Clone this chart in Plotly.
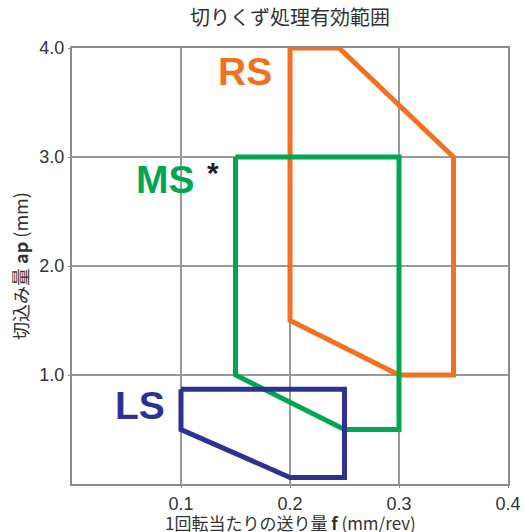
import plotly.graph_objects as go

# Regions (feed f mm/rev, depth ap mm)
rs_f = [0.2, 0.245, 0.35, 0.35, 0.3, 0.2, 0.2]
rs_ap = [4.0, 4.0, 3.0, 1.0, 1.0, 1.5, 4.0]
ms_f = [0.15, 0.3, 0.3, 0.25, 0.15, 0.15]
ms_ap = [3.0, 3.0, 0.5, 0.5, 1.0, 3.0]
ls_f = [0.1, 0.25, 0.25, 0.2, 0.1, 0.1]
ls_ap = [0.87, 0.87, 0.06, 0.06, 0.5, 0.87]

x_ticks = [0.1, 0.2, 0.3, 0.4]
x_labels = ["0.1", "0.2", "0.3", "0.4"]
y_ticks = [1.0, 2.0, 3.0, 4.0]
y_labels = ["1.0", "2.0", "3.0", "4.0"]

ORANGE = "#F37021"
GREEN = "#00A651"
NAVY = "#2E3192"
FONT = "Noto Sans CJK JP"

fig = go.Figure()
for fx, fy, c in [(rs_f, rs_ap, ORANGE), (ms_f, ms_ap, GREEN), (ls_f, ls_ap, NAVY)]:
    fig.add_trace(go.Scatter(x=fx, y=fy, mode="lines",
                             line=dict(color=c, width=5),
                             hoverinfo="skip", showlegend=False))

labels = [("RS", 0.159, 3.78, ORANGE), ("MS", 0.086, 2.79, GREEN), ("LS", 0.062, 0.72, NAVY)]
for t, x, y, c in labels:
    fig.add_annotation(x=x, y=y, text=f"<b>{t}</b>", showarrow=False,
                       font=dict(family="Arial, Liberation Sans", size=39, color=c))
fig.add_annotation(x=0.129, y=2.86, text="<b>*</b>", showarrow=False,
                   font=dict(family="Arial, Liberation Sans", size=30, color="#231F20"))

# axis titles
fig.add_annotation(x=0.5, y=0, xref="paper", yref="paper", yshift=-38, showarrow=False,
                   text="1回転当たりの送り量 <b>f</b> (mm/rev)", yanchor="middle",
                   font=dict(family=FONT, size=17, color="#333333"))
fig.add_annotation(x=0, y=0.5, xref="paper", yref="paper", xshift=-52, showarrow=False,
                   text="切込み量 <b>ap</b> (mm)", textangle=-90, xanchor="center",
                   font=dict(family=FONT, size=18, color="#333333"))

axis_common = dict(showline=True, linecolor="#8c8c8c", linewidth=2, mirror=True,
                   showgrid=True, gridcolor="#999999", gridwidth=1.5, zeroline=False,
                   ticks="outside", ticklen=2, tickcolor="#8c8c8c", automargin=False,
                   tickfont=dict(family="Liberation Sans, Arial", size=18, color="#333333"))

fig.update_xaxes(range=[0, 0.4], tickvals=x_ticks, ticktext=x_labels, **axis_common)
fig.update_yaxes(range=[0, 4.0], tickvals=y_ticks, ticktext=y_labels, **axis_common)

fig.update_layout(
    width=524, height=532,
    margin=dict(l=72, r=16, t=48, b=48, autoexpand=False),
    plot_bgcolor="white", paper_bgcolor="white",
    title=dict(text="切りくず処理有効範囲", x=0.5, xref="paper", xanchor="center",
               y=1, yref="container", yanchor="top", pad=dict(t=11),
               font=dict(family=FONT, size=20, color="#333333")),
)

fig.write_html("out.html", config={"displayModeBar": False},
               post_script="document.body.style.margin='0';document.body.style.overflow='hidden';")
